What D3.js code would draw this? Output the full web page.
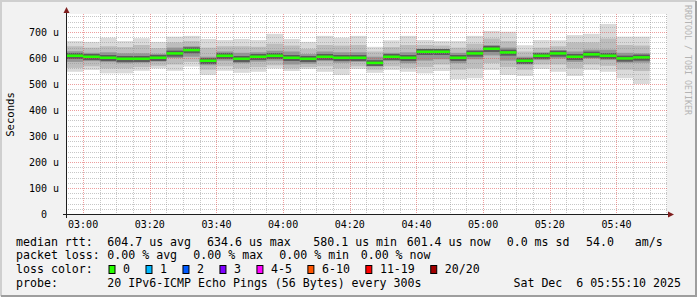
<!DOCTYPE html>
<html>
<head>
<meta charset="utf-8">
<script src="https://cdn.jsdelivr.net/npm/d3@7"></script>
<style>
  body { margin: 0; background: #f2f2f2; }
  text { font-family: "DejaVu Sans Mono", monospace; white-space: pre; }
</style>
</head>
<body>
<svg id="chart"></svg>
<script>
// 5 minute steps, values in microseconds
var barStart = ["02:55","03:00","03:05","03:10","03:15","03:20","03:25","03:30","03:35","03:40",
  "03:45","03:50","03:55","04:00","04:05","04:10","04:15","04:20","04:25","04:30",
  "04:35","04:40","04:45","04:50","04:55","05:00","05:05","05:10","05:15","05:20",
  "05:25","05:30","05:35","05:40","05:45"];
var median = [607.7, 603.8, 600.0, 596.1, 596.1, 600.0, 616.7, 629.5, 588.5, 607.7,
  596.1, 603.8, 607.7, 600.0, 596.1, 603.8, 600.0, 600.0, 580.1, 603.8,
  600.0, 623.1, 623.1, 600.0, 616.7, 634.6, 620.5, 588.5, 607.7, 616.7,
  603.8, 613.0, 607.7, 597.5, 601.4];
var pingMax = [665, 662, 678, 665, 676, 662, 682, 685, 673, 669,
  673, 669, 693, 673, 662, 685, 678, 685, 643, 668,
  685, 669, 665, 665, 685, 704, 701, 649, 669, 668,
  688, 693, 731, 682, 682];
var pingHi90 = [645, 640, 645, 642, 650, 638, 660, 665, 640, 645,
  645, 643, 655, 648, 635, 650, 648, 650, 625, 642,
  650, 650, 648, 640, 655, 675, 665, 625, 640, 645,
  660, 660, 675, 650, 648];
var pingHi75 = [626, 620, 622, 618, 618, 616, 640, 645, 605, 625,
  620, 622, 628, 625, 615, 625, 622, 622, 605, 620,
  622, 635, 632, 620, 632, 650, 640, 605, 622, 630,
  625, 632, 632, 620, 618];
var pingLo25 = [585, 588, 584, 580, 582, 586, 600, 605, 572, 590,
  580, 586, 590, 575, 578, 588, 582, 585, 570, 588,
  580, 590, 595, 580, 595, 610, 590, 575, 592, 598,
  585, 598, 592, 582, 582];
var pingLo10 = [562, 568, 560, 560, 565, 570, 575, 585, 555, 568,
  560, 565, 572, 560, 565, 568, 560, 568, 555, 568,
  562, 565, 575, 555, 560, 580, 565, 555, 575, 575,
  560, 575, 570, 555, 550];
var pingMin = [547, 554, 541, 541, 551, 560, 551, 567, 535, 551,
  543, 547, 560, 550, 558, 547, 535, 558, 543, 554,
  547, 541, 550, 519, 522, 554, 535, 531, 558, 547,
  531, 554, 547, 522, 500];

var rttLegend = ["median rtt:", "604.7 us avg", "634.6 us max", "580.1 us min",
  "601.4 us now", "0.0 ms sd", "54.0   am/s"];
var lossLegend = ["packet loss:", "0.00 % avg", "0.00 % max", "0.00 % min", "0.00 % now"];
var lossLabels = ["0", "1", "2", "3", "4-5", "6-10", "11-19", "20/20"];
var lossColors = ["#26ff00", "#00b8ff", "#0059ff", "#7e00ff", "#ff00ff", "#ff5500", "#ff0000", "#a10000"];
var probeText = "20 IPv6-ICMP Echo Pings (56 Bytes) every 300s";
var stampText = "Sat Dec  6 05:55:10 2025";

var svgWidth = 697, svgHeight = 297;
var plotL = 67, plotR = 667, plotT = 14, plotB = 214;

var svg = d3.select("#chart")
  .attr("width", svgWidth)
  .attr("height", svgHeight);

// dotted patterns for the grid (1px on, 1px off)
var defs = svg.append("defs");
[["hMinor", 2, 1, "rgba(143,143,143,0.5)"], ["vMinor", 1, 2, "rgba(143,143,143,0.5)"],
 ["hMajor", 2, 1, "rgba(222,79,79,0.55)"], ["vMajor", 1, 2, "rgba(222,79,79,0.55)"]].forEach(function(p) {
  defs.append("pattern")
    .attr("id", p[0])
    .attr("patternUnits", "userSpaceOnUse")
    .attr("width", p[1]).attr("height", p[2])
    .append("rect").attr("width", 1).attr("height", 1).attr("fill", p[3]);
});

// frame
svg.append("rect").attr("width", svgWidth).attr("height", svgHeight).attr("fill", "#f2f2f2");
svg.append("path").attr("d", "M1,296V1H696").attr("fill", "none")
  .attr("stroke", "#cfcfcf").attr("stroke-width", 2);
svg.append("path").attr("d", "M1,296H696V1").attr("fill", "none")
  .attr("stroke", "#9e9e9e").attr("stroke-width", 2);

var parseTime = function(s) {
  var p = s.split(":");
  return new Date(Date.UTC(2025, 11, 6, +p[0], +p[1], 0));
};
var tStart = new Date(Date.UTC(2025, 11, 6, 2, 55, 10));
var tEnd = new Date(Date.UTC(2025, 11, 6, 5, 55, 10));

var x = d3.scaleUtc().domain([tStart, tEnd]).range([plotL, plotR]);
var y = d3.scaleLinear().domain([0, 200 / 0.26]).range([plotB, plotT]);

svg.append("rect")
  .attr("x", plotL).attr("y", plotT)
  .attr("width", plotR - plotL).attr("height", plotB - plotT)
  .attr("fill", "#fff");

svg.append("clipPath").attr("id", "plot")
  .append("rect")
  .attr("x", plotL).attr("y", plotT)
  .attr("width", plotR - plotL).attr("height", plotB - plotT);

var bars = barStart.map(function(s, i) {
  var t0 = parseTime(s);
  return {
    t0: t0, t1: d3.utcMinute.offset(t0, 5),
    med: median[i], max: pingMax[i], hi90: pingHi90[i], hi75: pingHi75[i],
    lo25: pingLo25[i], lo10: pingLo10[i], min: pingMin[i]
  };
});

var g = svg.append("g").attr("clip-path", "url(#plot)");

// smoke layers, outer to inner
var layers = [
  { hi: "max", lo: "min", color: "#dadada" },
  { hi: "hi90", lo: "lo10", color: "#bdbdbd" },
  { hi: "hi75", lo: "lo25", color: "#959595" }
];
layers.forEach(function(l) {
  g.selectAll(null)
    .data(bars)
    .enter().append("rect")
    .attr("x", function(d) { return x(d.t0); })
    .attr("width", function(d) { return x(d.t1) - x(d.t0); })
    .attr("y", function(d) { return y(d[l.hi]); })
    .attr("height", function(d) { return y(d[l.lo]) - y(d[l.hi]); })
    .attr("fill", l.color);
});
g.selectAll(null)
  .data(bars)
  .enter().append("rect")
  .attr("x", function(d) { return x(d.t0); })
  .attr("width", function(d) { return x(d.t1) - x(d.t0); })
  .attr("y", function(d) { return y(d.med) - 3; })
  .attr("height", 6)
  .attr("fill", "#5c5c5c");

// grid
var minorX = d3.utcMinute.every(5).range(tStart, tEnd).filter(function(t) { return t.getUTCMinutes() % 20 != 0; });
var majorX = d3.utcMinute.every(20).range(tStart, tEnd);
var minorY = d3.range(20, 780, 20).filter(function(v) { return v % 100 != 0; });
var majorY = d3.range(100, 780, 100);

var grid = svg.append("g").attr("shape-rendering", "crispEdges");
var drawH = function(vals, pat) {
  grid.selectAll(null).data(vals).enter().append("rect")
    .attr("x", plotL).attr("width", plotR + 1 - plotL)
    .attr("y", function(d) { return Math.round(y(d)); })
    .attr("height", 1)
    .attr("fill", "url(#" + pat + ")");
};
var drawV = function(vals, pat) {
  grid.selectAll(null).data(vals).enter().append("rect")
    .attr("x", function(d) { return Math.round(x(d)); })
    .attr("width", 1)
    .attr("y", plotT).attr("height", plotB - plotT)
    .attr("fill", "url(#" + pat + ")");
};
drawV(minorX, "vMinor");
drawH(minorY, "hMinor");
drawV(majorX, "vMajor");
drawH(majorY, "hMajor");

// median line, above the grid
svg.append("g").attr("clip-path", "url(#plot)")
  .selectAll(null)
  .data(bars)
  .enter().append("rect")
  .attr("x", function(d) { return x(d.t0); })
  .attr("width", function(d) { return x(d.t1) - x(d.t0); })
  .attr("y", function(d) { return y(d.med) - 1.5; })
  .attr("height", 2.5)
  .attr("fill", lossColors[0]);

// axes
svg.append("line").attr("x1", 63).attr("x2", 668).attr("y1", plotB + 0.5).attr("y2", plotB + 0.5)
  .attr("stroke", "#1f1f1f");
svg.append("line").attr("x1", plotL - 0.5).attr("x2", plotL - 0.5).attr("y1", plotB + 4).attr("y2", 12)
  .attr("stroke", "#1f1f1f");
svg.append("path").attr("d", "M668,211.5L674,214.5L668,217.5Z").attr("fill", "#801f1f");
svg.append("path").attr("d", "M63.5,13L66.5,7L69.5,13Z").attr("fill", "#801f1f");

// tick labels
var timeFmt = d3.utcFormat("%H:%M");
svg.selectAll(null).data(majorX).enter().append("text")
  .attr("x", function(d) { return x(d); })
  .attr("y", 228)
  .attr("text-anchor", "middle")
  .attr("font-size", "10px")
  .text(timeFmt);

var yTicks = d3.range(0, 800, 100);
svg.selectAll(null).data(yTicks).enter().append("text")
  .attr("x", 47)
  .attr("y", function(d) { return y(d) + 3.5; })
  .attr("text-anchor", "end")
  .attr("font-size", "10px")
  .text(function(d) { return d; });
svg.selectAll(null).data(yTicks.filter(function(d) { return d > 0; })).enter().append("text")
  .attr("x", 53)
  .attr("y", function(d) { return y(d) + 3.5; })
  .attr("font-size", "10px")
  .text("u");

svg.append("text")
  .attr("transform", "translate(14,114.5) rotate(-90)")
  .attr("text-anchor", "middle")
  .attr("font-size", "10.6px")
  .text("Seconds");

svg.append("text")
  .attr("transform", "translate(685,5) rotate(90)")
  .attr("font-size", "8.3px")
  .attr("fill", "#b4b4b4")
  .text("RRDTOOL / TOBI OETIKER");

// legend
var fs = 11.6, cw = fs * 0.602;
var legend = svg.append("g").attr("font-size", fs + "px");
var rttX = [16, 107.3, 207, 313.3, 406.7, 506.7, 586];
rttLegend.forEach(function(s, i) {
  legend.append("text").attr("x", rttX[i]).attr("y", 245.5).text(s);
});
var lossX = [16, 107.3, 193.3, 279.3, 360.7];
lossLegend.forEach(function(s, i) {
  legend.append("text").attr("x", lossX[i]).attr("y", 259.2).text(s);
});
legend.append("text").attr("x", 16).attr("y", 272.9).text("loss color:");
var sx = 108.5;
lossLabels.forEach(function(s, i) {
  legend.append("rect")
    .attr("x", sx + 0.5).attr("y", 265.5)
    .attr("width", 6).attr("height", 8)
    .attr("fill", lossColors[i])
    .attr("stroke", "#000");
  legend.append("text").attr("x", sx + 14.6).attr("y", 272.9).text(s);
  sx += 14.6 + s.length * cw + 15.4;
});
legend.append("text").attr("x", 16).attr("y", 286.6).text("probe:");
legend.append("text").attr("x", 107.3).attr("y", 286.6).text(probeText);
legend.append("text").attr("x", 681).attr("y", 286.6).attr("text-anchor", "end").text(stampText);
</script>
</body>
</html>
